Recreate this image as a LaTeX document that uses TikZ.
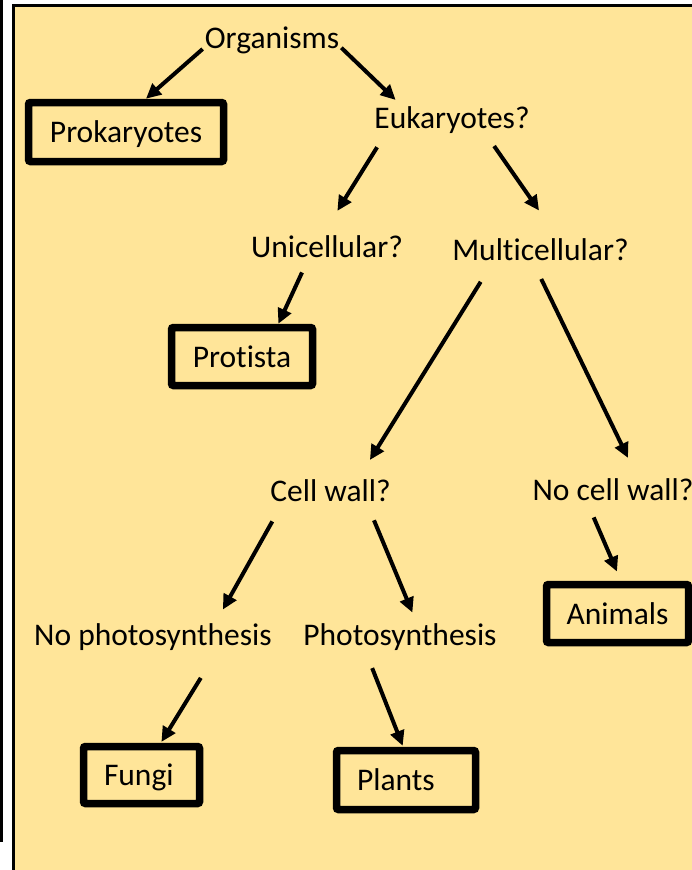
\documentclass[tikz,border=0pt]{standalone}
\usepackage{fontspec}
\setmainfont{Carlito}[Ligatures=NoCommon]
\usepackage{tikz}
\usetikzlibrary{arrows.meta}
\definecolor{panelgold}{HTML}{FFE599}
\newcommand{\treefont}{\fontsize{31.5}{37}\selectfont}

\begin{document}
\begin{tikzpicture}[
  x=1pt, y=-1pt,
  every node/.style={font=\treefont},
  quest/.style={anchor=base,inner xsep=2pt,inner ysep=2pt,text height=21pt,text depth=6pt},
  leaf/.style={draw,line width=7.5pt,rounded corners=2pt,inner sep=0pt,minimum height=58pt,text height=21pt,text depth=0pt},
  arr/.style={line width=4pt,-{Triangle[length=15pt,width=14pt]}}
]
\useasboundingbox (0,0) rectangle (692,870);
\clip (0,0) rectangle (692,870);
\fill[white] (0,0) rectangle (692,870);
\draw[line width=3pt] (1.5,0) -- (1.5,842);
\filldraw[fill=panelgold,line width=3pt] (13.5,5.5) rectangle (720,900);

\node[quest] (org) at (272,48) {Organisms};
\node[leaf,minimum width=195pt,minimum height=59pt] (prok) at (126,132) {Prokaryotes};
\node[quest] (euk) at (452,128) {Eukaryotes?};
\node[quest] (uni) at (327,257) {Unicellular?};
\node[quest] (multi) at (540.5,260) {Multicellular?};
\node[leaf,minimum width=141pt] (prot) at (242,356.5) {Protista};
\node[quest] (cw) at (330.5,501) {Cell wall?};
\node[quest] (ncw) at (613,500) {No cell wall?};
\node[leaf,minimum width=142pt] (anim) at (617.5,613.5) {Animals};
\node[quest] (nps) at (153,645) {No photosynthesis};
\node[quest] (ps) at (400,645) {Photosynthesis};
\node[leaf,minimum width=116pt,minimum height=57pt,text width=75pt,align=left] (fungi) at (141.5,775) {Fungi};
\node[leaf,minimum width=139pt,minimum height=59pt,text width=98pt,align=left] (plants) at (406,780) {Plants};

\draw[arr] (org.187) -- (prok.59);
\draw[arr,shorten >=7pt] (org.354) -- (euk.163);
\draw[arr,shorten <=13pt,shorten >=27pt] (euk.193) -- (uni.104);
\draw[arr,shorten <=12pt,shorten >=32pt] (euk.336) -- (multi.43);
\draw[arr,shorten <=8pt] (uni.216) -- (prot.42);
\draw[arr,shorten <=16pt,shorten >=21pt] (multi.197) -- (cw.29);
\draw[arr,shorten <=12pt,shorten >=21pt] (multi.254) -- (ncw.33);
\draw[arr,shorten <=14pt,shorten >=14pt] (cw.197) -- (nps.14);
\draw[arr,shorten <=12pt,shorten >=10pt] (cw.338) -- (ps.44);
\draw[arr,shorten <=10pt,shorten >=10pt] (ncw.214) -- (anim.84);
\draw[arr,shorten <=29pt,shorten >=1pt] (nps.346) -- (fungi.59);
\draw[arr,shorten <=16pt,shorten >=1pt] (ps.205) -- (plants.95);

\end{tikzpicture}
\end{document}
